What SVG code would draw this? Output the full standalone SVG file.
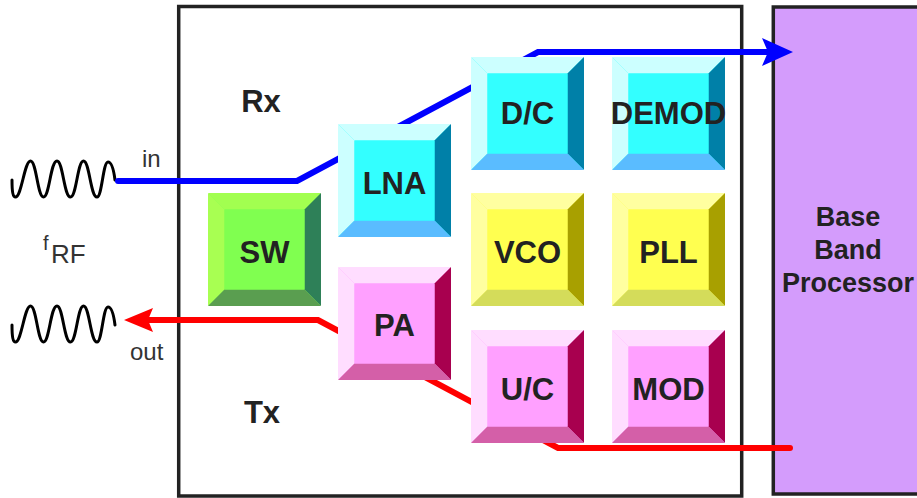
<svg xmlns="http://www.w3.org/2000/svg" xmlns:xlink="http://www.w3.org/1999/xlink" width="917" height="498" viewBox="0 0 917 498">
<style>
.lbl{font-family:"Liberation Sans",Arial,sans-serif;font-weight:bold;font-size:31px;fill:#222;text-anchor:middle}
.bbt{font-size:27px}
.sm{font-family:"Liberation Sans",Arial,sans-serif;fill:#333}
.frame{fill:#fff;stroke:#222;stroke-width:3.5}
.bb{fill:#D49CFC;stroke:#222;stroke-width:3.5}
.wave{fill:none;stroke:#000;stroke-width:3;stroke-linecap:round;stroke-linejoin:round}
.tp{fill:var(--tp)}.lf{fill:var(--lf)}.rt{fill:var(--rt)}.bt{fill:var(--bt)}.fc{fill:var(--fc)}
.c{--tp:#CCFFFF;--lf:#CCFFFF;--rt:#0080A8;--bt:#5ABCFF;--fc:#33FFFF}
.g{--tp:#A2FF50;--lf:#A8FF52;--rt:#2E8058;--bt:#5A9E50;--fc:#80FF50}
.y{--tp:#FFFFA0;--lf:#FFFFA0;--rt:#A8A000;--bt:#D4DC5A;--fc:#FFFF50}
.p{--tp:#FFDDFF;--lf:#FFDDFF;--rt:#A8004F;--bt:#D45FA8;--fc:#FFA0FF}
</style>
<defs>
<g id="bevel">
<rect class="fc" x="0.5" y="0.5" width="112" height="112"/>
<polygon class="tp" points="0,0 113,0 96.5,16.5 16.5,16.5"/>
<polygon class="lf" points="0,0 16.5,16.5 16.5,96.5 0,113"/>
<polygon class="rt" points="113,0 113,113 96.5,96.5 96.5,16.5"/>
<polygon class="bt" points="0,113 16.5,96.5 96.5,96.5 113,113"/>
<rect class="fc" x="16.5" y="16.5" width="80" height="80"/>
</g>
<path id="wv" class="wave" d="M12,180 C12,192 13,197 15.5,197 C21.5,197 24.5,161 30.5,161 C36.5,161 37.5,197 43.5,197 C49.5,197 50.5,161 57,161 C63,161 64,197 70.5,197 C76.5,197 77.5,161 83.5,161 C89.5,161 90.5,197 97,197 C102,197 103,162 108,162 C112,162 114,172 115,180"/>
<marker id="ab" markerUnits="userSpaceOnUse" markerWidth="32" markerHeight="30" viewBox="0 0 32 30" refX="6" refY="14" orient="auto"><path d="M0,0 L31,14 L0,28 L6,14 z" fill="#0000FF"/></marker>
<marker id="ar" markerUnits="userSpaceOnUse" markerWidth="30" markerHeight="26" viewBox="0 0 30 26" refX="5" refY="12" orient="auto"><path d="M0,0 L29,12 L0,24 L5,12 z" fill="#FF0000"/></marker>
</defs>
<g id="frame"><rect class="frame" x="178.7" y="6.5" width="563" height="489.5"/></g>
<g id="baseband"><rect class="bb" x="773.3" y="7" width="160" height="487"/>
<text class="lbl bbt" x="848" y="226">Base</text>
<text class="lbl bbt" x="848" y="259">Band</text>
<text class="lbl bbt" x="848" y="292">Processor</text></g>
<g id="waves"><use xlink:href="#wv"/><use xlink:href="#wv" transform="translate(0,145)"/></g>
<g id="labels">
<text class="sm" x="142" y="167" font-size="24">in</text>
<text class="sm" x="130" y="360" font-size="24">out</text>
<text class="sm" x="43" y="250" font-size="20">f</text><text class="sm" x="51" y="263" font-size="26">RF</text>
<text class="lbl" x="261" y="112">Rx</text>
<text class="lbl" x="262" y="423">Tx</text>
</g>
<g id="connectors" fill="none" stroke-width="6" stroke-linejoin="miter">
<path d="M118,181 L297,181 L538,52 L768,52" stroke="#0000FF" stroke-linecap="round" marker-end="url(#ab)"/>
<path d="M790,448 L558,448 L318,320 L148,320" stroke="#FF0000" stroke-linecap="round" marker-end="url(#ar)"/>
</g>
<g id="SW" class="g"><use xlink:href="#bevel" x="208" y="193"/><text class="lbl" x="264.5" y="263">SW</text></g>
<g id="LNA" class="c"><use xlink:href="#bevel" x="338" y="124"/><text class="lbl" x="394.5" y="194">LNA</text></g>
<g id="PA" class="p"><use xlink:href="#bevel" x="338" y="267"/><text class="lbl" x="394.5" y="335.5">PA</text></g>
<g id="DC" class="c"><use xlink:href="#bevel" x="471" y="57"/><text class="lbl" x="527.5" y="123.5">D/C</text></g>
<g id="DEMOD" class="c"><use xlink:href="#bevel" x="612" y="57"/><text class="lbl" x="668.5" y="123.5">DEMOD</text></g>
<g id="VCO" class="y"><use xlink:href="#bevel" x="471" y="193"/><text class="lbl" x="527.5" y="263">VCO</text></g>
<g id="PLL" class="y"><use xlink:href="#bevel" x="612" y="193"/><text class="lbl" x="668.5" y="263">PLL</text></g>
<g id="UC" class="p"><use xlink:href="#bevel" x="471" y="330"/><text class="lbl" x="527.5" y="400">U/C</text></g>
<g id="MOD" class="p"><use xlink:href="#bevel" x="612" y="330"/><text class="lbl" x="668.5" y="400">MOD</text></g>
</svg>
